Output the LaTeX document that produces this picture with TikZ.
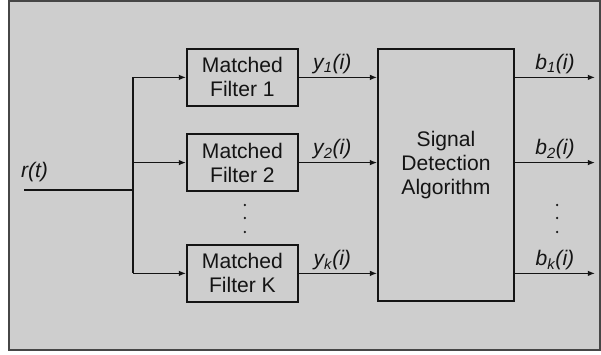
\documentclass[tikz,border=0pt]{standalone}
\usepackage{fontspec}
\setmainfont{Liberation Sans}
\usetikzlibrary{positioning,arrows.meta,calc}
\definecolor{panelbg}{RGB}{206, 206, 206}
\definecolor{frameline}{RGB}{70, 70, 70}
\definecolor{textdark}{RGB}{20, 20, 20}

\begin{document}
\begin{tikzpicture}[
    font=\fontsize{15}{17}\selectfont,
    >={Latex[length=1.8mm,width=1.4mm]},
    filterbox/.style={
        rectangle,
        minimum width=2.775cm, minimum height=1.425cm,
        align=center, inner sep=1pt,
        text=textdark,
        draw=textdark, line width=1.3pt
    },
    detbox/.style={
        rectangle,
        minimum width=3.4cm, minimum height=6.3cm,
        align=center,
        text=textdark,
        draw=textdark, line width=1.3pt
    },
    wire/.style={
        line width=0.9pt,
        color=textdark
    },
    sig/.style={
        font=\fontsize{15}{17}\selectfont\itshape,
        text=textdark, inner sep=2pt
    }
]

% Page size and gray panel
\useasboundingbox (0,0) rectangle (15.025,8.875);
\fill[panelbg] (0.225,0.125) rectangle (15.0,8.85);
\draw[frameline, line width=1pt] (0.225,0.125) rectangle (15.0,8.85);

% COLUMN 1: Matched filters
\node[filterbox] at (6.06, 6.94) (mf1) {Matched\\Filter 1};
\node[filterbox] at (6.06, 4.81) (mf2) {Matched\\Filter 2};
\node[filterbox] at (6.06, 2.04) (mfk) {Matched\\Filter K};

% COLUMN 2: Detector (empty last line lifts the text a little)
\node[detbox] at (11.15, 4.5) (sda) {Signal\\Detection\\Algorithm\\~};

% Input line and branch point
\coordinate (rin) at (0.6, 4.125);
\coordinate (split) at (3.325, 4.125);
\node[sig, anchor=south west] at (0.45, 4.25) (rlabel) {r(t)};

% Output ends
\coordinate (out1) at (14.875, 6.94);
\coordinate (out2) at (14.875, 4.81);
\coordinate (outk) at (14.875, 2.04);

% === CONNECTIONS ===
\draw[wire] (rin) -- (split);
\draw[wire] (split |- mf1) -- (split |- mfk);
\draw[wire, ->] (split |- mf1) -- (mf1.west);
\draw[wire, ->] (split |- mf2) -- (mf2.west);
\draw[wire, ->] (split |- mfk) -- (mfk.west);

\draw[wire, ->] (mf1.east) -- node[sig, above, xshift=-4pt] {y\textsubscript{1}(i)} (mf1.east -| sda.west);
\draw[wire, ->] (mf2.east) -- node[sig, above, xshift=-4pt] {y\textsubscript{2}(i)} (mf2.east -| sda.west);
\draw[wire, ->] (mfk.east) -- node[sig, above, xshift=-4pt] {y\textsubscript{k}(i)} (mfk.east -| sda.west);

\draw[wire, ->] (sda.east |- out1) -- node[sig, above] {b\textsubscript{1}(i)} (out1);
\draw[wire, ->] (sda.east |- out2) -- node[sig, above] {b\textsubscript{2}(i)} (out2);
\draw[wire, ->] (sda.east |- outk) -- node[sig, above] {b\textsubscript{k}(i)} (outk);

% Dots for the omitted branches
\foreach \yy in {3.75, 3.425, 3.075} {
    \fill[textdark] (6.12, \yy) circle (0.9pt);
    \fill[textdark] (13.93, \yy) circle (0.9pt);
}

\end{tikzpicture}
\end{document}
